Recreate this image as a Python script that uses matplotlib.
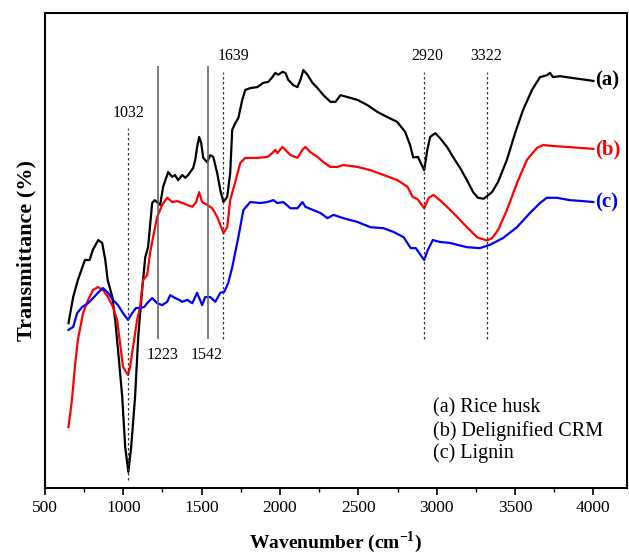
import numpy as np
import matplotlib.pyplot as plt
from matplotlib.ticker import MultipleLocator

plt.rcParams['font.family'] = ['Liberation Serif', 'DejaVu Serif']

# (a) Rice husk
wn_a = [650, 680, 710, 755, 785, 805, 840, 865, 885, 900, 930, 948, 968, 993, 1012, 1032,
        1050, 1075, 1095, 1120, 1140, 1158, 1184, 1200, 1215, 1235, 1254, 1286, 1312, 1330,
        1350, 1376, 1395, 1414, 1446, 1459, 1471, 1484, 1497, 1510, 1535, 1555, 1574, 1599,
        1619, 1639, 1663, 1682, 1695, 1714, 1734, 1759, 1778, 1810, 1855, 1893, 1925, 1951,
        1970, 1989, 2015, 2034, 2053, 2085, 2111, 2130, 2149, 2175, 2207, 2239, 2277, 2322,
        2354, 2386, 2431, 2495, 2558, 2620, 2684, 2747, 2798, 2830, 2850, 2880, 2920, 2940,
        2958, 2990, 3020, 3066, 3104, 3149, 3193, 3232, 3263, 3300, 3353, 3391, 3448, 3500,
        3551, 3608, 3659, 3703, 3723, 3742, 3787, 3870, 3959, 4000]
t_a = [34.7, 40.2, 43.8, 48.0, 48.0, 50.1, 52.2, 51.6, 48.0, 43.8, 40.2, 35.4, 28.4, 19.2, 8.6, 3.4,
       8.6, 19.2, 31.8, 41.7, 48.6, 50.7, 60.0, 60.6, 60.2, 59.6, 63.4, 66.5, 65.5, 65.9,
       64.8, 65.9, 65.3, 65.9, 67.4, 69.1, 71.8, 73.9, 72.6, 69.5, 68.6, 70.1, 69.7, 66.3,
       62.7, 60.2, 61.3, 66.3, 75.4, 76.8, 77.9, 81.7, 83.8, 84.2, 84.4, 85.3, 85.5, 86.5,
       87.4, 87.0, 87.6, 87.4, 85.9, 84.8, 84.4, 85.9, 88.0, 87.0, 85.3, 84.2, 82.7, 81.3,
       81.3, 82.7, 82.3, 81.7, 80.6, 79.2, 78.1, 77.1, 75.0, 72.2, 69.6, 69.7, 66.9, 71.2,
       73.9, 74.7, 73.7, 71.8, 69.7, 67.4, 64.8, 62.3, 61.1, 60.9, 62.3, 64.4, 69.1, 74.7,
       79.6, 83.8, 86.5, 86.9, 87.4, 86.5, 86.7, 86.3, 85.9, 85.7]

# (b) Delignified CRM
wn_b = [650, 672, 691, 710, 743, 775, 807, 838, 870, 902, 934, 960, 979, 998, 1030, 1043,
        1062, 1088, 1107, 1126, 1152, 1171, 1190, 1216, 1248, 1280, 1312, 1344, 1376, 1408,
        1440, 1465, 1484, 1503, 1535, 1567, 1599, 1619, 1639, 1663, 1682, 1714, 1746, 1778,
        1855, 1919, 1951, 1970, 1983, 2015, 2034, 2066, 2111, 2143, 2162, 2194, 2239, 2277,
        2322, 2367, 2405, 2495, 2578, 2661, 2750, 2814, 2846, 2878, 2920, 2949, 2980, 3020,
        3066, 3130, 3193, 3257, 3320, 3353, 3391, 3448, 3512, 3576, 3640, 3679, 3742, 3831,
        3914, 4000]
t_b = [12.8, 18.5, 25.5, 31.2, 36.8, 39.6, 41.7, 42.3, 41.7, 40.2, 38.1, 35.4, 30.5, 25.5, 23.8, 25.5,
       29.7, 35.4, 38.1, 43.8, 44.8, 49.5, 52.8, 57.1, 59.6, 61.1, 60.2, 60.4, 60.0, 59.6,
       59.2, 60.2, 62.3, 60.2, 59.6, 58.9, 57.1, 55.4, 53.7, 54.9, 60.6, 64.4, 68.4, 69.5,
       69.5, 69.7, 70.5, 71.2, 70.5, 71.8, 71.2, 70.1, 69.5, 71.2, 71.8, 70.7, 69.7, 68.6,
       67.6, 67.6, 68.0, 67.6, 66.9, 65.9, 64.8, 63.4, 61.3, 60.8, 58.9, 61.1, 61.7, 60.6,
       59.2, 57.1, 54.9, 52.8, 52.1, 52.6, 54.3, 58.5, 64.2, 69.1, 71.6, 72.2, 72.0, 71.8,
       71.6, 71.4]

# (c) Lignin
wn_c = [650, 680, 705, 737, 775, 807, 838, 870, 902, 934, 966, 998, 1030, 1056, 1081, 1107,
        1133, 1152, 1184, 1216, 1248, 1280, 1299, 1331, 1357, 1376, 1408, 1440, 1471, 1503,
        1522, 1555, 1587, 1619, 1644, 1670, 1695, 1734, 1766, 1810, 1874, 1919, 1957, 1983,
        2021, 2066, 2111, 2143, 2162, 2213, 2258, 2303, 2341, 2405, 2495, 2578, 2661, 2725,
        2789, 2834, 2866, 2920, 2943, 2975, 3020, 3083, 3192, 3275, 3340, 3422, 3512, 3595,
        3659, 3703, 3767, 3850, 3934, 4000]
t_c = [33.3, 33.9, 36.8, 38.1, 38.9, 40.0, 41.1, 42.1, 41.1, 39.6, 38.5, 36.8, 35.4, 36.8, 37.9, 37.9,
       38.1, 38.9, 40.0, 38.9, 38.5, 39.2, 40.6, 40.0, 39.6, 39.2, 39.6, 38.9, 41.1, 38.5,
       40.2, 40.2, 39.2, 41.1, 41.3, 43.2, 46.5, 52.8, 58.5, 60.2, 60.0, 60.2, 60.6, 60.0,
       60.2, 58.9, 58.9, 60.2, 59.2, 58.5, 57.9, 56.8, 57.5, 56.8, 56.0, 54.9, 54.7, 53.9,
       52.8, 50.5, 50.5, 48.0, 50.1, 52.2, 51.8, 51.6, 50.7, 50.5, 51.2, 52.6, 54.9, 57.9,
       60.0, 61.1, 61.1, 60.6, 60.4, 60.2]

solid_peaks = [1223, 1542]

fig = plt.figure(figsize=(6.29, 5.56), dpi=100)
ax = fig.add_axes([0.0715, 0.1223, 0.9255, 0.8543])

ax.plot(wn_a, t_a, color='black', lw=1.6)
ax.plot(wn_b, t_b, color='red', lw=1.6)
ax.plot(wn_c, t_c, color='blue', lw=1.6)

# peak markers
ax.vlines(1032, 1.7, 75.8, colors='#333333', linestyles=(0, (2, 2)), lw=0.9)
ax.text(1032, 77.3, '1032', ha='center', va='bottom', fontsize=11.5)
for wn in [1639, 2920, 3322]:
    ax.vlines(wn, 31.3, 87.6, colors='#333333', linestyles=(0, (2, 2)), lw=0.9)
ax.text(1702, 89.3, '1639', ha='center', va='bottom', fontsize=11.5)
ax.text(2940, 89.3, '2920', ha='center', va='bottom', fontsize=11.5)
ax.text(3316, 89.3, '3322', ha='center', va='bottom', fontsize=11.5)
for wn in solid_peaks:
    ax.vlines(wn, 31.3, 88.8, colors='#666666', linestyles='solid', lw=1.2)
ax.text(1250, 29.6, '1223', ha='center', va='top', fontsize=11.5)
ax.text(1530, 29.6, '1542', ha='center', va='top', fontsize=11.5)

# curve labels
ax.text(4010, 85.7, '(a)', color='black', fontsize=15, fontweight='bold', va='center')
ax.text(4010, 71.2, '(b)', color='red', fontsize=15, fontweight='bold', va='center')
ax.text(4010, 60.2, '(c)', color='blue', fontsize=15, fontweight='bold', va='center')

# sample key
ax.text(2978, 12.0, '(a) Rice husk\n(b) Delignified CRM\n(c) Lignin',
        ha='left', va='center', fontsize=14.5, linespacing=1.2)

ax.set_xlim(500, 4215)
ax.set_ylim(0, 100)
ax.set_yticks([])
ax.xaxis.set_major_locator(MultipleLocator(500))
ax.xaxis.set_minor_locator(MultipleLocator(250))
ax.set_xticks(np.arange(500, 4001, 500))
ax.tick_params(axis='x', which='major', direction='out', length=5, width=1.2, labelsize=12.5)
ax.tick_params(axis='x', which='minor', direction='out', length=3, width=1.0)
for s in ax.spines.values():
    s.set_linewidth(1.5)

ax.set_xlabel('Wavenumber (cm$^{\\mathregular{-1}}$)', fontsize=14, fontweight='bold', labelpad=10)
ax.set_ylabel('Transmittance (%)', fontsize=16, fontweight='bold', labelpad=6)

fig.savefig('out.png', dpi=100)
plt.close(fig)
